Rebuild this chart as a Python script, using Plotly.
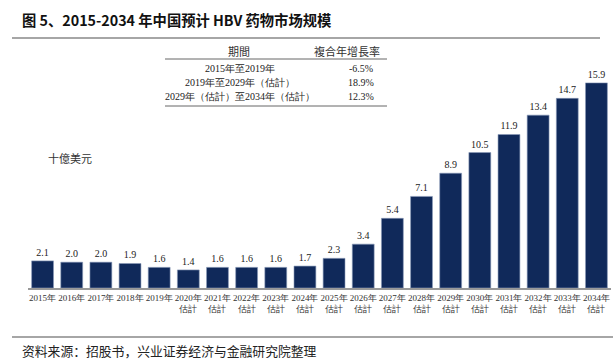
import plotly.graph_objects as go

years = ["2015年", "2016年", "2017年", "2018年", "2019年", "2020年", "2021年", "2022年", "2023年", "2024年",
         "2025年", "2026年", "2027年", "2028年", "2029年", "2030年", "2031年", "2032年", "2033年", "2034年"]
estimated = [False] * 5 + [True] * 15
values = [2.1, 2.0, 2.0, 1.9, 1.6, 1.4, 1.6, 1.6, 1.6, 1.7,
          2.3, 3.4, 5.4, 7.1, 8.9, 10.5, 11.9, 13.4, 14.7, 15.9]
tick_labels = [y + ("<br>估計" if e else "") for y, e in zip(years, estimated)]

table_periods = ["2015年至2019年", "2019年至2029年（估計）", "2029年（估計）至2034年（估計）"]
table_cagr = ["-6.5%", "18.9%", "12.3%"]

W, H = 613, 364
L, R, T, B = 28, 2, 60, 76
PW = W - L - R
PH = H - T - B

def px(x):
    return (x - L) / PW

def py(y):
    return (H - B - y) / PH

serif = "Liberation Serif, Times New Roman, serif"
cjk = "Noto Sans CJK SC"

fig = go.Figure()
fig.add_trace(go.Bar(
    x=tick_labels, y=values,
    marker=dict(color="#10295a", line=dict(color="#8a9bb8", width=0.6)),
    text=[f"{v:.1f}" for v in values], textposition="outside",
    textfont=dict(family=serif, size=10, color="#222"),
    cliponaxis=False,
))

def ann(x, y, text, family, size, color="#222", xanchor="center"):
    return dict(x=px(x), y=py(y), xref="paper", yref="paper", text=text,
                font=dict(family=family, size=size, color=color),
                xanchor=xanchor, yanchor="middle", showarrow=False)

annotations = [
    ann(20, 19, "<b>图 5、2015-2034 年中国预计 HBV 药物市场规模</b>", cjk, 14.3, "#111", "left"),
    ann(20, 350, "资料来源：招股书，兴业证券经济与金融研究院整理", cjk, 12.8, "#222", "left"),
    ann(70, 158, "十億美元", cjk, 11, "#333"),
    ann(239, 51, "期間", cjk, 11, "#333"),
    ann(347, 51, "複合年增長率", cjk, 11, "#333"),
]
row_y = [68, 82, 96]
for yy, p, c in zip(row_y, table_periods, table_cagr):
    annotations.append(ann(240, yy, p, serif, 10))
    annotations.append(ann(361, yy, c, serif, 10))

def hline(x0, x1, y, color, width):
    return dict(type="line", xref="paper", yref="paper", x0=px(x0), x1=px(x1), y0=py(y), y1=py(y),
                line=dict(color=color, width=width))

shapes = [
    hline(12, 600, 38, "#888", 1.5),
    hline(12, 613, 337, "#888", 1.5),
    hline(165, 387, 59, "#666", 1),
    hline(165, 387, 106, "#666", 1),
]

fig.update_layout(
    width=W, height=H,
    margin=dict(l=L, r=R, t=T, b=B),
    paper_bgcolor="white", plot_bgcolor="white",
    showlegend=False,
    bargap=0.25,
    annotations=annotations,
    shapes=shapes,
    xaxis=dict(showgrid=False, showline=True, linecolor="#999", linewidth=1.5, ticks="",
               tickfont=dict(family=serif, size=9, color="#333"), tickangle=0, fixedrange=True),
    yaxis=dict(range=[0, PH / 12.9], visible=False, fixedrange=True),
)

fig.write_html("out.html", config={"displayModeBar": False},
               post_script="document.body.style.margin='0';document.body.style.overflow='hidden';")
